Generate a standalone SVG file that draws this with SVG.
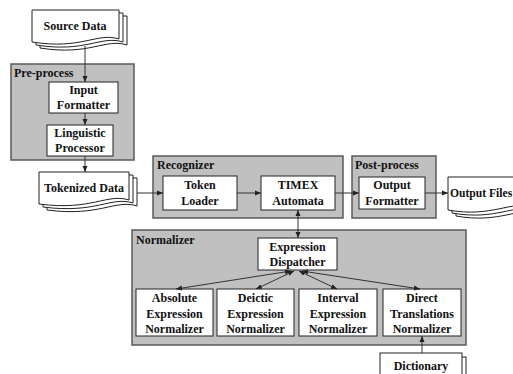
<svg xmlns="http://www.w3.org/2000/svg" width="513" height="374" viewBox="0 0 513 374">
<style>
text{font-family:'Liberation Serif','Times New Roman',serif;font-weight:bold;font-size:12px;fill:#111}
.t{text-anchor:middle}
.grp{fill:#c0c0c0;stroke:#5a5a5a;stroke-width:1.5}
.box{fill:#fff;stroke:#222;stroke-width:1}
.doc{fill:#fff;stroke:#222;stroke-width:1}
.ln{fill:none;stroke:#333;stroke-width:1;marker-end:url(#ah)}
.bi{marker-start:url(#ah)}
</style>
<defs>
<marker id="ah" markerWidth="6" markerHeight="6" refX="6" refY="3" orient="auto-start-reverse" markerUnits="userSpaceOnUse">
<path d="M0,0.5 L6,3 L0,5.5 z" fill="#222"/>
</marker>
</defs>
<rect width="513" height="374" fill="#fff"/>

<g id="preprocess">
<rect class="grp" x="11" y="64" width="123" height="96"/>
<text x="14" y="77">Pre-process</text>
</g>
<g id="recognizer">
<rect class="grp" x="153" y="156" width="190" height="62"/>
<text x="157" y="169">Recognizer</text>
</g>
<g id="postprocess">
<rect class="grp" x="352" y="156" width="84" height="62"/>
<text x="355" y="169">Post-process</text>
</g>
<g id="normalizer">
<rect class="grp" x="132" y="230" width="334" height="115"/>
<text x="136" y="244">Normalizer</text>
</g>

<g id="source-data">
<path class="doc" d="M40,16 H127 V45 C105,38 90,56 40,48 Z"/>
<path class="doc" d="M36,13 H123 V42 C101,35 86,53 36,45 Z"/>
<path class="doc" d="M32,10 H119 V39 C97,32 82,50 32,42 Z"/>
<text class="t" x="75" y="30">Source Data</text>
</g>
<g id="input-formatter">
<rect class="box" x="49" y="82" width="69" height="31"/>
<text class="t" x="83.5" y="94">Input</text>
<text class="t" x="83.5" y="109">Formatter</text>
</g>
<g id="linguistic-processor">
<rect class="box" x="47" y="125" width="66" height="31"/>
<text class="t" x="80" y="137">Linguistic</text>
<text class="t" x="80" y="152">Processor</text>
</g>
<g id="tokenized-data">
<path class="doc" d="M47,178 H137 V206 C115,199 100,217 47,210 Z"/>
<path class="doc" d="M43,175 H133 V203 C111,196 96,214 43,207 Z"/>
<path class="doc" d="M39,172 H129 V200 C107,193 92,211 39,204 Z"/>
<text class="t" x="84" y="192">Tokenized Data</text>
</g>
<g id="token-loader">
<rect class="box" x="163" y="176" width="74" height="34"/>
<text class="t" x="200" y="189">Token</text>
<text class="t" x="200" y="205">Loader</text>
</g>
<g id="timex-automata">
<rect class="box" x="261" y="176" width="74" height="34"/>
<text class="t" x="298" y="189">TIMEX</text>
<text class="t" x="298" y="205">Automata</text>
</g>
<g id="output-formatter">
<rect class="box" x="359" y="177" width="66" height="32"/>
<text class="t" x="392" y="189">Output</text>
<text class="t" x="392" y="205">Formatter</text>
</g>
<g id="output-files">
<path class="doc" d="M456,183 H540 V213 C520,206 500,224 456,216 Z"/>
<path class="doc" d="M452,180 H536 V210 C516,203 496,221 452,213 Z"/>
<path class="doc" d="M448,177 H532 V207 C512,200 492,218 448,210 Z"/>
<text x="450" y="197" style="font-size:11.6px">Output Files</text>
</g>
<g id="expression-dispatcher">
<rect class="box" x="258" y="238" width="79" height="32"/>
<text class="t" x="297.5" y="251">Expression</text>
<text class="t" x="297.5" y="266">Dispatcher</text>
</g>
<g id="absolute">
<rect class="box" x="136" y="289" width="77" height="47"/>
<text class="t" x="174.5" y="302">Absolute</text>
<text class="t" x="174.5" y="318">Expression</text>
<text class="t" x="174.5" y="333">Normalizer</text>
</g>
<g id="deictic">
<rect class="box" x="217" y="289" width="77" height="47"/>
<text class="t" x="255.5" y="302">Deictic</text>
<text class="t" x="255.5" y="318">Expression</text>
<text class="t" x="255.5" y="333">Normalizer</text>
</g>
<g id="interval">
<rect class="box" x="299" y="289" width="78" height="47"/>
<text class="t" x="338" y="302">Interval</text>
<text class="t" x="338" y="318">Expression</text>
<text class="t" x="338" y="333">Normalizer</text>
</g>
<g id="direct">
<rect class="box" x="383" y="289" width="78" height="47"/>
<text class="t" x="422" y="302">Direct</text>
<text class="t" x="422" y="318">Translations</text>
<text class="t" x="422" y="333">Normalizer</text>
</g>
<g id="dictionary">
<rect class="box" x="384" y="357" width="82" height="24"/>
<rect class="box" x="380" y="353" width="82" height="24"/>
<text class="t" x="421" y="370">Dictionary</text>
</g>

<g id="connectors">
<line class="ln" x1="85" y1="46" x2="85" y2="82"/>
<line class="ln" x1="85" y1="113" x2="85" y2="125"/>
<line class="ln" x1="85" y1="156" x2="85" y2="172"/>
<line class="ln" x1="137" y1="193" x2="163" y2="193"/>
<line class="ln" x1="237" y1="193" x2="261" y2="193"/>
<line class="ln" x1="335" y1="193" x2="359" y2="193"/>
<line class="ln" x1="425" y1="193" x2="448" y2="193"/>
<line class="ln bi" x1="298" y1="210" x2="298" y2="238"/>
<line class="ln bi" x1="291" y1="271" x2="176" y2="289"/>
<line class="ln bi" x1="294" y1="271" x2="256" y2="289"/>
<line class="ln bi" x1="299" y1="271" x2="337" y2="289"/>
<line class="ln bi" x1="302" y1="271" x2="420" y2="289"/>
<line class="ln" x1="422" y1="353" x2="422" y2="336"/>
</g>
</svg>
